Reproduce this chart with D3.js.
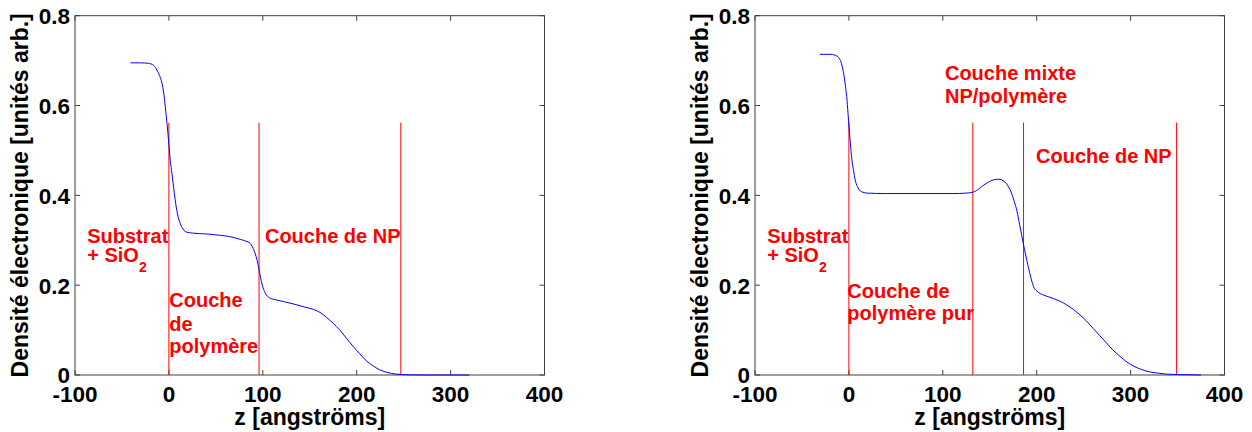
<!DOCTYPE html>
<html>
<head>
<meta charset="utf-8">
<script src="https://cdn.jsdelivr.net/npm/d3@7"></script>
<style>
  html, body { margin: 0; padding: 0; background: #fff; }
  svg { display: block; }
  text { font-family: "Liberation Sans", Arial, Helvetica, sans-serif; font-weight: bold; }
</style>
</head>
<body>
<svg id="chart" width="1252" height="432"></svg>
<script>
// ---- Data ----
const xTicks = [-100, 0, 100, 200, 300, 400];
const xTickLabels = ["-100", "0", "100", "200", "300", "400"];
const yTicks = [0, 0.2, 0.4, 0.6, 0.8];
const yTickLabels = ["0", "0.2", "0.4", "0.6", "0.8"];
const xLabel = "z [angströms]";
const yLabel = "Densité électronique [unités arb.]";

// Left panel profile
const leftZ = [-41, -30, -22, -16, -12.8, -10, -7.4, -5.5, -3.9, -2, -0.4, 1.5, 3.2, 5, 6.7, 9, 12, 15, 19, 25,
  40, 55, 65, 76, 82, 86.5, 89, 91.8, 94, 96, 98.5, 101, 104, 108, 115, 125, 133, 145, 154, 162,
  168, 175, 182, 189, 196, 203, 210, 217, 224, 232, 242, 255, 270, 320];
const leftV = [0.695, 0.695, 0.694, 0.689, 0.679, 0.667, 0.650, 0.628, 0.598, 0.560, 0.523, 0.477, 0.449, 0.418, 0.390, 0.360, 0.338, 0.325, 0.318, 0.316,
  0.314, 0.311, 0.308, 0.302, 0.298, 0.293, 0.285, 0.271, 0.255, 0.235, 0.208, 0.190, 0.178, 0.171, 0.167, 0.162, 0.158, 0.151, 0.146, 0.138,
  0.128, 0.115, 0.100, 0.082, 0.064, 0.048, 0.032, 0.021, 0.012, 0.006, 0.002, 0.0005, 0, 0];
const leftBounds = [0, 96, 247];

// Right panel profile
const rightZ = [-31, -20, -14.6, -11, -9, -7, -5, -3.5, -2, -0.5, 0.7, 2, 3.2, 5, 6.7, 9, 12, 15, 19, 40,
  80, 110, 125, 132, 136, 140, 145, 150, 155, 160, 164, 167, 170, 173, 176, 179, 182, 185.7, 188.5, 191,
  194, 197, 200, 204, 210, 218, 225, 232, 239, 246, 253, 260, 267, 274, 281, 289, 296, 303, 312, 320,
  330, 338, 350, 375];
const rightV = [0.714, 0.714, 0.712, 0.707, 0.700, 0.686, 0.664, 0.640, 0.612, 0.570, 0.538, 0.505, 0.479, 0.455, 0.434, 0.420, 0.410, 0.407, 0.405, 0.404,
  0.404, 0.404, 0.405, 0.407, 0.411, 0.417, 0.425, 0.431, 0.435, 0.436, 0.433, 0.428, 0.419, 0.406, 0.387, 0.365, 0.333, 0.293, 0.265, 0.241,
  0.215, 0.195, 0.187, 0.181, 0.176, 0.170, 0.164, 0.156, 0.146, 0.134, 0.120, 0.104, 0.088, 0.072, 0.056, 0.041, 0.029, 0.020, 0.012, 0.007,
  0.004, 0.002, 0.001, 0];
const rightBounds = [0, 132, 186, 349];

const boundTop = 0.562;

// Annotation texts (anchor in data units)
const leftNotes = [
  { text: "Substrat", z: -87, v: 0.2946 },
  { text: "+ SiO", sub: "2", z: -87, v: 0.2523 },
  { text: "Couche", z: 0.4, v: 0.1507 },
  { text: "de", z: 0.4, v: 0.0986 },
  { text: "polymère", z: 0.4, v: 0.0497 },
  { text: "Couche de NP", z: 102.3, v: 0.2933 }
];
const rightNotes = [
  { text: "Substrat", z: -87, v: 0.2946 },
  { text: "+ SiO", sub: "2", z: -87, v: 0.2523 },
  { text: "Couche de", z: -1.7, v: 0.1721 },
  { text: "polymère pur", z: -1.7, v: 0.1225 },
  { text: "Couche mixte", z: 102.3, v: 0.6569 },
  { text: "NP/polymère", z: 102.3, v: 0.605 },
  { text: "Couche de NP", z: 199.3, v: 0.4727 }
];

// ---- Drawing ----
const svg = d3.select("#chart");
const axisColor = "#404040";

function panel(left, zs, vs, bounds, notes) {
  const plotW = 469.5, top = 15.7, bottom = 375;
  const x = d3.scaleLinear().domain([-100, 400]).range([left, left + plotW]);
  const y = d3.scaleLinear().domain([0, 0.8]).range([bottom, top]);
  const g = svg.append("g");

  // box
  g.append("rect").attr("x", left).attr("y", top).attr("width", plotW).attr("height", bottom - top)
    .attr("fill", "none").attr("stroke", axisColor).attr("stroke-width", 1);

  // inner ticks, all four sides
  const tl = 5;
  xTicks.forEach(t => {
    const px = x(t);
    g.append("line").attr("x1", px).attr("x2", px).attr("y1", bottom).attr("y2", bottom - tl).attr("stroke", axisColor);
    g.append("line").attr("x1", px).attr("x2", px).attr("y1", top).attr("y2", top + tl).attr("stroke", axisColor);
  });
  yTicks.forEach(t => {
    const py = y(t);
    g.append("line").attr("x1", left).attr("x2", left + tl).attr("y1", py).attr("y2", py).attr("stroke", axisColor);
    g.append("line").attr("x1", left + plotW).attr("x2", left + plotW - tl).attr("y1", py).attr("y2", py).attr("stroke", axisColor);
  });

  // tick labels
  g.selectAll(".xt").data(xTicks).enter().append("text")
    .attr("x", d => x(d)).attr("y", bottom + 26.7)
    .attr("text-anchor", "middle").attr("font-size", 22.5).attr("fill", "#000")
    .text((d, i) => xTickLabels[i]);
  g.selectAll(".yt").data(yTicks).enter().append("text")
    .attr("x", left - 5).attr("y", d => y(d)).attr("dy", "0.37em")
    .attr("text-anchor", "end").attr("font-size", 22.5).attr("fill", "#000")
    .text((d, i) => yTickLabels[i]);

  // axis labels
  g.append("text").attr("x", left + plotW / 2).attr("y", 425)
    .attr("text-anchor", "middle").attr("font-size", 23).attr("fill", "#000").text(xLabel);
  g.append("text").attr("transform", `translate(${left - 46.7},${(top + bottom) / 2}) rotate(-90)`)
    .attr("text-anchor", "middle").attr("font-size", 23).attr("fill", "#000").text(yLabel);

  // boundary lines
  g.selectAll(".bd").data(bounds).enter().append("line")
    .attr("x1", d => x(d)).attr("x2", d => x(d))
    .attr("y1", y(0)).attr("y2", y(boundTop))
    .attr("stroke", "#ff0000").attr("stroke-width", 1);

  // profile curve
  const pts = zs.map((z, i) => [z, vs[i]]);
  const line = d3.line().x(d => x(d[0])).y(d => y(d[1])).curve(d3.curveMonotoneX);
  g.append("path").attr("d", line(pts)).attr("fill", "none")
    .attr("stroke", "#0000ff").attr("stroke-width", 1);

  // annotations
  notes.forEach(n => {
    const t = g.append("text").attr("x", x(n.z)).attr("y", y(n.v))
      .attr("font-size", 20).attr("fill", "#ff0000").text(n.text);
    if (n.sub) {
      t.append("tspan").attr("font-size", 14).attr("dy", 10).text(n.sub);
    }
  });
}

panel(75, leftZ, leftV, leftBounds, leftNotes);
panel(755, rightZ, rightV, rightBounds, rightNotes);
</script>
</body>
</html>
